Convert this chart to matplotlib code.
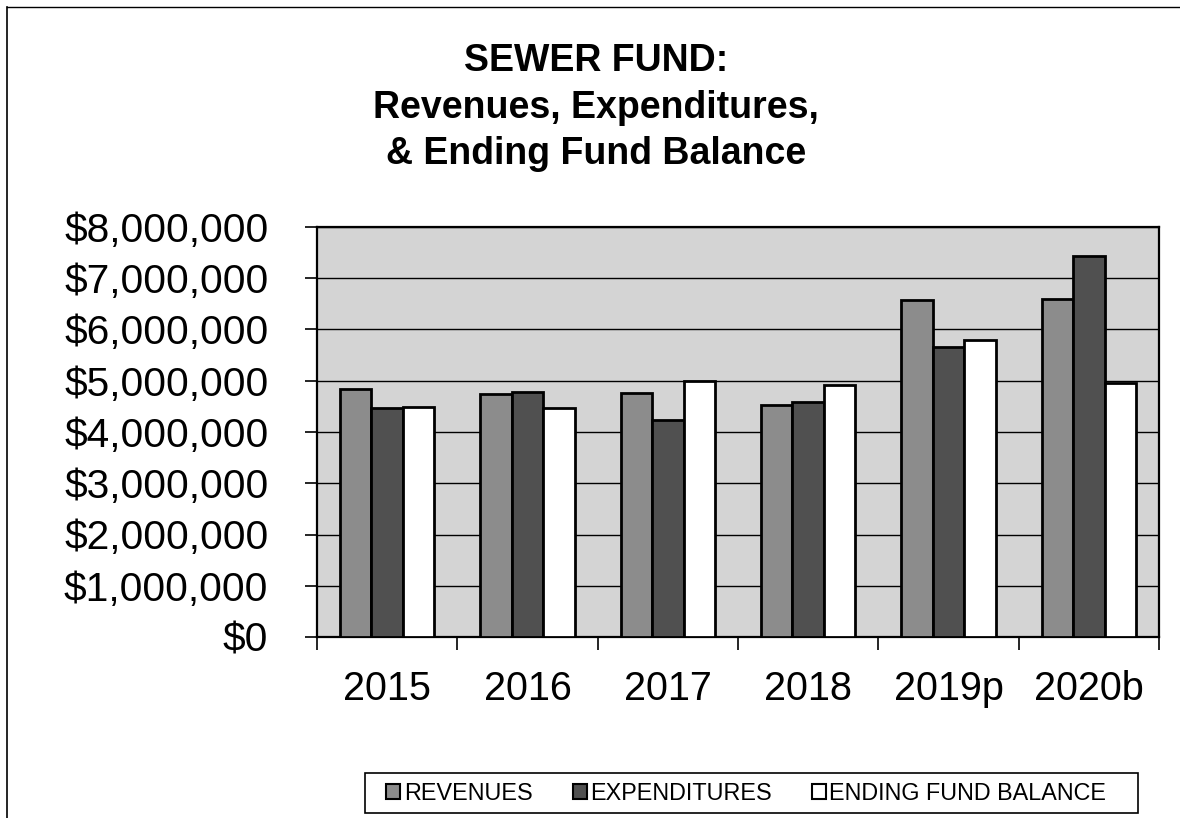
import matplotlib
matplotlib.use("Agg")
import matplotlib.pyplot as plt
import numpy as np
from matplotlib.lines import Line2D
from matplotlib.patches import Rectangle
from matplotlib.ticker import FuncFormatter, FixedLocator

plt.rcParams['font.family'] = ['Liberation Sans', 'DejaVu Sans']

years = ["2015", "2016", "2017", "2018", "2019p", "2020b"]
revenues = [4830000, 4750000, 4760000, 4530000, 6570000, 6590000]
expenditures = [4460000, 4780000, 4230000, 4590000, 5660000, 7440000]
ending_balance = [4490000, 4470000, 5000000, 4920000, 5800000, 4960000]
series_names = ["REVENUES", "EXPENDITURES", "ENDING FUND BALANCE"]

W, H, DPI = 1180, 818, 100
fig = plt.figure(figsize=(W / DPI, H / DPI), dpi=DPI)
fig.patch.set_facecolor("white")

ax = fig.add_axes([317 / W, 181 / H, (1159 - 317) / W, (637 - 227) / H])
ax.set_facecolor("#d4d4d4")

x = np.arange(len(years))
bw = 0.224
colors = ["#8c8c8c", "#505050", "#ffffff"]
for i, (vals, col, name) in enumerate(zip([revenues, expenditures, ending_balance],
                                          colors, series_names)):
    ax.bar(x + (i - 1) * bw, vals, width=bw, color=col, edgecolor="black",
           linewidth=2.0, zorder=3, label=name)

ax.set_xlim(-0.5, len(years) - 0.5)
ax.set_ylim(0, 8000000)
ax.set_yticks(np.arange(0, 8000001, 1000000))
ax.yaxis.set_major_formatter(FuncFormatter(lambda v, p: f"${v:,.0f}"))
ax.yaxis.grid(True, color="black", linewidth=1.0, zorder=1)
ax.set_axisbelow(True)

ax.set_xticks(x)
ax.set_xticklabels(years)
ax.xaxis.set_minor_locator(FixedLocator(np.arange(-0.5, len(years), 1.0)))
ax.tick_params(axis="x", which="major", length=0, pad=24, labelsize=28.5)
ax.tick_params(axis="x", which="minor", length=9, width=1.2, direction="out")
ax.tick_params(axis="y", which="major", length=9, width=1.2, direction="out",
               pad=26, labelsize=29.3)

for s in ax.spines.values():
    s.set_color("black")
    s.set_linewidth(1.6)

fig.text(596 / W, 1 - 43 / H, "SEWER FUND:\nRevenues, Expenditures,\n& Ending Fund Balance",
         ha="center", va="top", fontsize=27, fontweight="bold", linespacing=1.38)

handles = [Rectangle((0, 0), 1, 1, facecolor=c, edgecolor="black", linewidth=1.5)
           for c in colors]
leg = fig.legend(handles, series_names, loc="lower left", ncol=3,
                 bbox_to_anchor=(378 / W, 5 / H), bbox_transform=fig.transFigure,
                 fontsize=16.8, frameon=False,
                 handlelength=0.6, handleheight=0.6, handletextpad=0.15,
                 columnspacing=1.72, borderpad=0.35, borderaxespad=0)

# legend box
fig.add_artist(Rectangle((365 / W, 5 / H), (1138 - 365) / W, 40 / H,
                         transform=fig.transFigure, facecolor="none",
                         edgecolor="black", linewidth=1.2, zorder=0))

# outer chart border (left and top edges)
fig.add_artist(Line2D([7 / W, 7 / W], [0, 1 - 7 / H], transform=fig.transFigure,
                      color="black", linewidth=1.2))
fig.add_artist(Line2D([7 / W, 1], [1 - 7 / H, 1 - 7 / H], transform=fig.transFigure,
                      color="black", linewidth=1.0))

fig.savefig("out.png", dpi=DPI)
